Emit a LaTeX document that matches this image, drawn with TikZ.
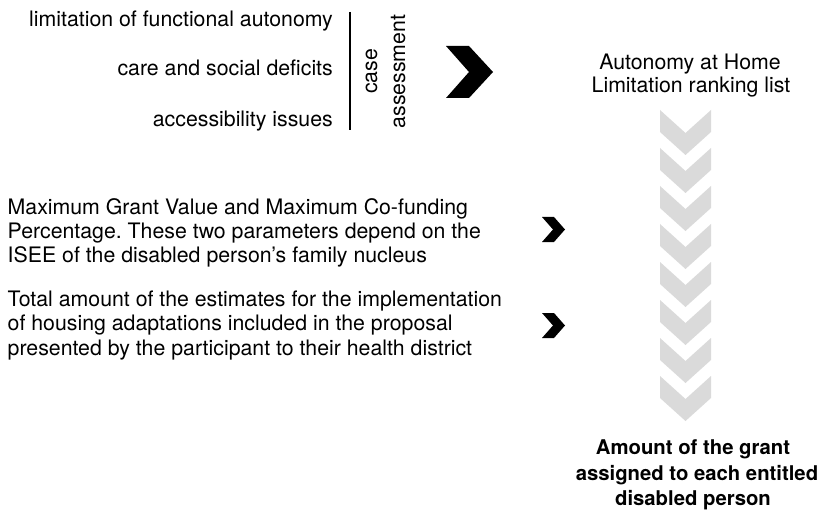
\documentclass[tikz,border=0pt]{standalone}
\usepackage{fontspec}
\setmainfont{TeX Gyre Heros}
\frenchspacing
\definecolor{chevgray}{RGB}{218,218,218}
\begin{document}
\begin{tikzpicture}[x=1pt,y=-1pt,
  txt/.style={font=\fontsize{21.3}{24}\selectfont, inner sep=0pt},
  boldtxt/.style={font=\fontsize{20.3}{24}\selectfont\bfseries, inner sep=0pt},
  graychev/.style={fill=chevgray, draw=none},
  blackchev/.style={fill=black, draw=none}]
\useasboundingbox (0,0) rectangle (819,513);

% gray chevron column
\foreach \k in {0,...,7} {
  \pgfmathsetmacro\yy{110+38*\k}
  \fill[graychev] (660,\yy) -- (685.5,\yy+23) -- (711,\yy) -- (711,\yy+22)
     -- (685.5,\yy+45) -- (660,\yy+22) -- cycle;
}

% black chevrons
\fill[blackchev] (446,46) -- (469,46) -- (493,72) -- (469,98) -- (446,98) -- (469,72) -- cycle;
\foreach \dy in {0,96} {
  \fill[blackchev] (542,217+\dy) -- (554,217+\dy) -- (565,229.5+\dy) -- (554,242+\dy)
     -- (542,242+\dy) -- (553,229.5+\dy) -- cycle;
}

% bracket line
\draw[line width=2pt] (349.5,12) -- (349.5,130);

% criteria
\node[txt, anchor=base east] (c1) at (333,26.7) {limitation of functional autonomy};
\node[txt, anchor=base east] (c2) at (333,76) {care and social deficits};
\node[txt, anchor=base east] (c3) at (333,126.7) {accessibility issues};

% rotated label
\node[txt, anchor=base, rotate=90] (r1) at (377,71.5) {case};
\node[txt, anchor=base, rotate=90] (r2) at (405,71.5) {assessment};

% title
\node[txt, anchor=base] (t1) at (690,69.5) {Autonomy at Home};
\node[txt, anchor=base] (t2) at (691,93) {Limitation ranking list};

% paragraphs
\node[txt, anchor=base west] (p1) at (7.5,214.3) {Maximum Grant Value and Maximum Co-funding};
\node[txt, anchor=base west] (p2) at (7.5,238.3) {Percentage. These two parameters depend on the};
\node[txt, anchor=base west] (p3) at (7.5,262.3) {ISEE of the disabled person’s family nucleus};
\node[txt, anchor=base west] (q1) at (7.5,306.7) {Total amount of the estimates for the implementation};
\node[txt, anchor=base west] (q2) at (7.5,330.7) {of housing adaptations included in the proposal};
\node[txt, anchor=base west] (q3) at (7.5,355) {presented by the participant to their health district};

% result
\node[boldtxt, anchor=base] (b1) at (693,454.3) {Amount of the grant};
\node[boldtxt, anchor=base] (b2) at (697,480) {assigned to each entitled};
\node[boldtxt, anchor=base] (b3) at (693,505) {disabled person};
\end{tikzpicture}
\end{document}
